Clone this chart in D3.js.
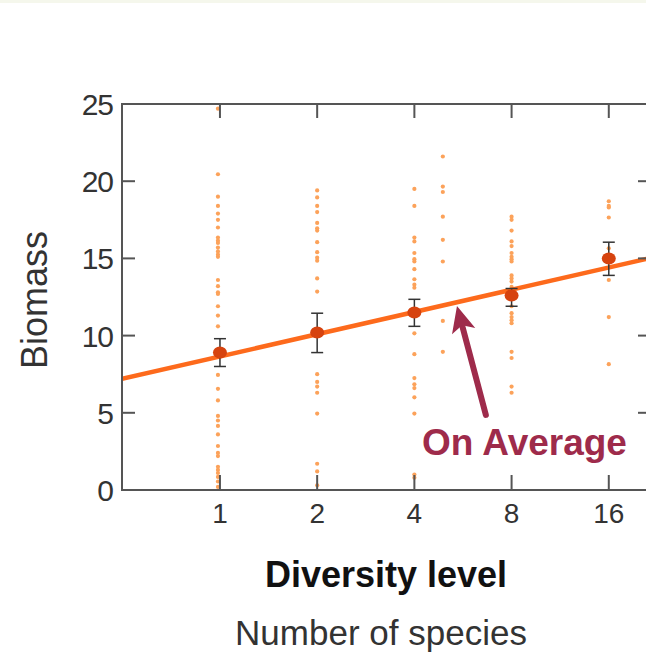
<!DOCTYPE html>
<html>
<head>
<meta charset="utf-8">
<script src="https://cdn.jsdelivr.net/npm/d3@7"></script>
<style>
  html, body { margin: 0; padding: 0; background: #fff; }
  svg { display: block; }
  text { font-family: "Liberation Sans", Arial, sans-serif; }
</style>
</head>
<body>
<svg id="chart" width="646" height="655"></svg>
<script>
// ---- data ----
const levels = [1, 2, 4, 8, 16];
const xTickLabels = ["1", "2", "4", "8", "16"];
const yTicks = [0, 5, 10, 15, 20, 25];
const means = [8.9, 10.2, 11.5, 12.6, 15.0];
const errLow = [8.0, 8.9, 10.6, 11.9, 13.9];
const errHigh = [9.8, 11.45, 12.35, 13.05, 16.05];

const obsLevel1 = [24.7, 20.45, 19.0, 18.4, 17.9, 17.5, 17.0, 16.35, 16.15, 16.0, 15.7, 15.45, 15.25, 15.1, 13.6, 13.2, 12.8, 12.7, 11.9, 11.3, 10.6, 7.45, 6.55, 5.8, 4.8, 4.5, 4.15, 3.6, 2.85, 2.4, 2.2, 1.5, 1.3, 1.1, 0.85, 0.55, 0.2];
const obsLevel2 = [19.4, 18.95, 18.4, 18.0, 17.3, 16.95, 16.8, 16.05, 15.4, 15.05, 14.85, 13.7, 12.85, 7.5, 7.0, 6.7, 6.3, 4.95, 1.7, 1.2, 0.3];
const obsLevel4 = [19.5, 18.4, 16.35, 16.1, 15.35, 14.95, 14.8, 14.3, 13.65, 13.3, 13.1, 10.15, 8.8, 7.25, 6.85, 6.6, 6.0, 4.95, 1.0, 0.8];
const obsLevel5 = [21.6, 19.65, 19.3, 17.7, 16.2, 14.8, 10.95, 8.95];
const obsLevel8 = [17.7, 17.5, 16.8, 16.1, 15.8, 15.35, 15.1, 14.95, 14.8, 13.9, 13.7, 13.5, 13.15, 11.9, 11.45, 11.2, 11.0, 10.8, 8.95, 8.55, 6.7, 6.3];
const obsLevel16 = [18.7, 18.4, 18.3, 17.65, 15.65, 13.6, 11.2, 8.15];
const obsColumns = [
  { level: 1, values: obsLevel1 },
  { level: 2, values: obsLevel2 },
  { level: 4, values: obsLevel4 },
  { level: 4.9, values: obsLevel5 },
  { level: 8, values: obsLevel8 },
  { level: 16, values: obsLevel16 }
];

// regression: biomass = intercept + slope * log2(species)
const fitIntercept = 8.65;
const fitSlope = 1.44;

// annotation (data coords)
const arrowTail = [6.66, 4.86];
const arrowTip = [5.42, 11.92];
const annotationText = "On Average";

// ---- layout ----
const svg = d3.select("#chart");
const pLeft = 122, pRight = 651, pTop = 104, pBottom = 490;

const x = d3.scaleLog().base(2).domain([0.5, 32]).range([122.75, 706]);
const y = d3.scaleLinear().domain([0, 25]).range([pBottom, pTop]);

// faint top strip
svg.append("rect").attr("x", 0).attr("y", 0).attr("width", 646).attr("height", 3)
  .attr("fill", "#f5f7ec");

const plot = svg.append("g");
const clip = svg.append("clipPath").attr("id", "clipP");
clip.append("rect").attr("x", pLeft).attr("y", pTop).attr("width", pRight - pLeft).attr("height", pBottom - pTop);

// observations
const obs = plot.append("g");
obsColumns.forEach(col => {
  obs.selectAll(null).data(col.values).enter().append("circle")
    .attr("cx", x(col.level) - (col.level === 1 ? 2 : 0))
    .attr("cy", d => y(d))
    .attr("r", 2.1)
    .attr("fill", "#fca25a");
});

// regression line
const fitX = [x.invert(pLeft), x.invert(pRight)];
plot.append("line")
  .attr("clip-path", "url(#clipP)")
  .attr("x1", x(fitX[0])).attr("y1", y(fitIntercept + fitSlope * Math.log2(fitX[0])))
  .attr("x2", x(fitX[1])).attr("y2", y(fitIntercept + fitSlope * Math.log2(fitX[1])))
  .attr("stroke", "#fd6a1c").attr("stroke-width", 4.5);

// error bars
const eb = plot.append("g").attr("stroke", "#333").attr("stroke-width", 1.5);
levels.forEach((lv, i) => {
  const cx = x(lv);
  eb.append("line").attr("x1", cx).attr("x2", cx).attr("y1", y(errLow[i])).attr("y2", y(errHigh[i]));
  eb.append("line").attr("x1", cx - 6).attr("x2", cx + 6).attr("y1", y(errLow[i])).attr("y2", y(errLow[i]));
  eb.append("line").attr("x1", cx - 6).attr("x2", cx + 6).attr("y1", y(errHigh[i])).attr("y2", y(errHigh[i]));
});

// means
plot.selectAll(".mean").data(levels).enter().append("ellipse")
  .attr("cx", d => x(d))
  .attr("cy", (d, i) => y(means[i]))
  .attr("rx", 7).attr("ry", 6)
  .attr("fill", "#d6430f");

// frame and ticks
const axisColor = "#555";
const frame = svg.append("g").attr("stroke", axisColor).attr("stroke-width", 2).attr("fill", "none");
frame.append("rect").attr("x", pLeft).attr("y", pTop).attr("width", pRight - pLeft).attr("height", pBottom - pTop);
yTicks.forEach(t => {
  frame.append("line").attr("x1", pLeft).attr("x2", pLeft + 13).attr("y1", y(t)).attr("y2", y(t));
  frame.append("line").attr("x1", pRight - 13).attr("x2", pRight).attr("y1", y(t)).attr("y2", y(t));
});
levels.forEach(lv => {
  frame.append("line").attr("x1", x(lv)).attr("x2", x(lv)).attr("y1", pBottom).attr("y2", pBottom - 15);
  frame.append("line").attr("x1", x(lv)).attr("x2", x(lv)).attr("y1", pTop).attr("y2", pTop + 14);
});

// tick labels
svg.append("g").selectAll("text").data(yTicks).enter().append("text")
  .attr("x", 113).attr("y", d => y(d) + 11)
  .attr("text-anchor", "end").attr("font-size", 30).attr("fill", "#333")
  .attr("letter-spacing", -1)
  .text(d => d);
svg.append("g").selectAll("text").data(levels).enter().append("text")
  .attr("x", d => x(d)).attr("y", 523)
  .attr("text-anchor", "middle").attr("font-size", 28).attr("fill", "#333")
  .text((d, i) => xTickLabels[i]);

// axis titles
svg.append("text").attr("transform", "translate(47,300) rotate(-90)")
  .attr("text-anchor", "middle").attr("font-size", 36).attr("fill", "#333")
  .text("Biomass");
svg.append("text").attr("x", 386).attr("y", 587)
  .attr("text-anchor", "middle").attr("font-size", 36).attr("font-weight", "bold").attr("fill", "#111")
  .text("Diversity level");
svg.append("text").attr("x", 381).attr("y", 645)
  .attr("text-anchor", "middle").attr("font-size", 35).attr("fill", "#333")
  .text("Number of species");

// annotation arrow
const annColor = "#9e2b4b";
const tx = x(arrowTail[0]), ty = y(arrowTail[1]);
const hx = x(arrowTip[0]), hy = y(arrowTip[1]);
const ang = Math.atan2(hy - ty, hx - tx);
const headLen = 26, headW = 12;
const bx = hx - headLen * Math.cos(ang), by = hy - headLen * Math.sin(ang);
svg.append("line").attr("x1", tx).attr("y1", ty).attr("x2", bx + 4 * Math.cos(ang)).attr("y2", by + 4 * Math.sin(ang))
  .attr("stroke", annColor).attr("stroke-width", 6).attr("stroke-linecap", "round");
const px = -Math.sin(ang), py = Math.cos(ang);
svg.append("path")
  .attr("d", `M${hx},${hy} L${bx + px * headW},${by + py * headW} L${bx + 6 * Math.cos(ang)},${by + 6 * Math.sin(ang)} L${bx - px * headW},${by - py * headW} Z`)
  .attr("fill", annColor);
svg.append("text").attr("x", 422).attr("y", 455)
  .attr("font-size", 37).attr("font-weight", "bold").attr("fill", annColor)
  .text(annotationText);
</script>
</body>
</html>
